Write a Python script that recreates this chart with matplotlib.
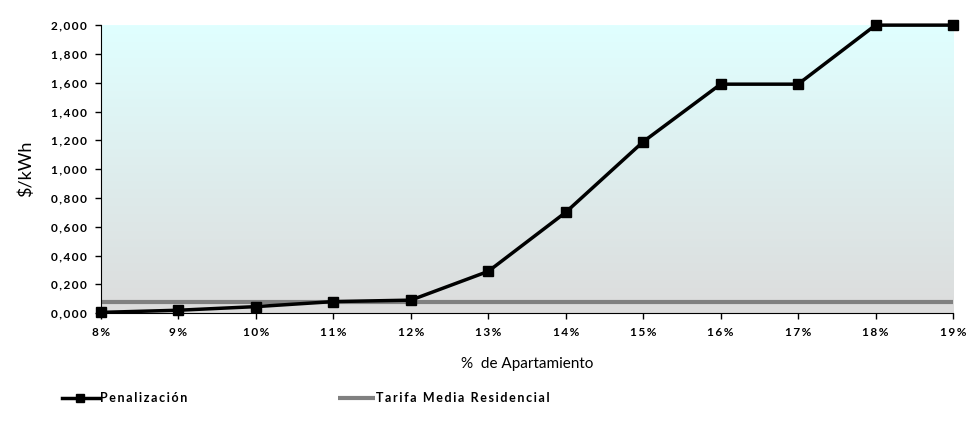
import numpy as np
import matplotlib
matplotlib.use("Agg")
import matplotlib.pyplot as plt
from matplotlib.colors import LinearSegmentedColormap

plt.rcParams['font.family'] = ['Lato', 'DejaVu Sans']

# data
apartamiento = [8, 9, 10, 11, 12, 13, 14, 15, 16, 17, 18, 19]
penalizacion = [0.005, 0.02, 0.045, 0.08, 0.09, 0.29, 0.70, 1.19, 1.59, 1.59, 2.0, 2.0]
tarifa_media = 0.08


def fmt_y(v):
    # 1,200 style (comma as decimal mark, three decimals)
    return f"{v:.3f}".replace('.', ',')


def spaced(s):
    # mimic the wide letter spacing of the original
    return '\u2009'.join(s)


fig = plt.figure(figsize=(9.68, 4.26), dpi=100)
ax = fig.add_axes([0.1043, 0.265, 0.8802, 0.676])

# gradient background (gray at bottom -> light cyan at top)
cmap = LinearSegmentedColormap.from_list("bg", ["#dcdcdc", "#e0ffff"])
grad = np.linspace(0, 1, 256).reshape(-1, 1)
ax.imshow(grad, aspect='auto', cmap=cmap, origin='lower',
          extent=[8, 19, 0, 2.0], zorder=0)

ax.plot(apartamiento, [tarifa_media] * len(apartamiento), color='#808080', lw=3,
        label=spaced('Tarifa Media Residencial'), zorder=2, solid_capstyle='butt')
ax.plot(apartamiento, penalizacion, color='black', lw=2.5, marker='s', ms=7.5,
        label=spaced('Penalización'), zorder=3, clip_on=False)

ax.set_xlim(8, 19)
ax.set_ylim(0, 2.0)
ax.set_xticks(apartamiento)
ax.set_xticklabels([spaced(f"{v}%") for v in apartamiento], fontsize=8.5, fontweight='bold')
yt = np.arange(0, 2.01, 0.2)
ax.set_yticks(yt)
ax.set_yticklabels([spaced(fmt_y(v)) for v in yt], fontsize=8.5, fontweight='bold')
ax.tick_params(axis='both', direction='out', length=4, width=1, pad=6)

ax.spines['top'].set_visible(False)
ax.spines['right'].set_visible(False)

ax.set_ylabel('$/kWh', fontsize=13, labelpad=12)
ax.set_xlabel('%  de Apartamiento', fontsize=11, labelpad=14)

handles, labels = ax.get_legend_handles_labels()
leg = fig.legend(handles[::-1], labels[::-1], loc='center left', bbox_to_anchor=(0.052, 0.065),
                 ncol=2, frameon=False, fontsize=9, handlelength=3.0,
                 columnspacing=12.0, handletextpad=0.1, markerscale=0.8)
for t in leg.get_texts():
    t.set_fontweight('bold')

fig.savefig("out.png", dpi=100)
